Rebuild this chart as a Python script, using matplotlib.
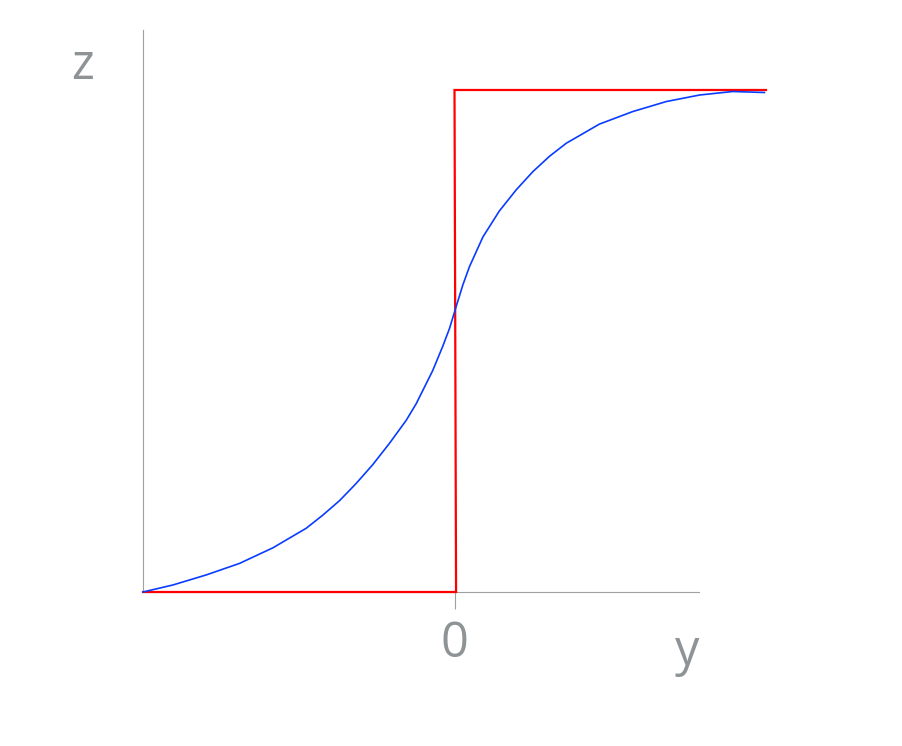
import matplotlib
matplotlib.use("Agg")
import matplotlib.pyplot as plt

# Data
step_x = [-1.0, 0.005, 0.0, 1.0]
step_z = [0.0, 0.0, 1.0, 1.0]

curve_x = [-1.000, -0.904, -0.797, -0.690, -0.583, -0.476, -0.423, -0.369, -0.316,
           -0.262, -0.209, -0.155, -0.123, -0.070, -0.038, -0.016, 0.005, 0.027,
           0.048, 0.091, 0.144, 0.198, 0.251, 0.305, 0.359, 0.465, 0.572, 0.680,
           0.787, 0.893, 0.995]
curve_z = [0.000, 0.014, 0.034, 0.057, 0.088, 0.127, 0.153, 0.182, 0.216,
           0.254, 0.296, 0.342, 0.375, 0.441, 0.489, 0.525, 0.568, 0.612,
           0.648, 0.707, 0.759, 0.801, 0.837, 0.868, 0.894, 0.932, 0.957, 0.977,
           0.990, 0.997, 0.995]

xticks = [0]
xtick_labels = ["0"]

W, H = 902, 746
fig = plt.figure(figsize=(W / 100, H / 100), dpi=100)
ax = fig.add_axes([143 / W, (H - 592) / H, 623 / W, 562 / H])
ax.set_xlim(-1.0, 1.0)
ax.set_ylim(0.0, 1.1195)

gray = "#8e9396"
axcol = "#a0a0a0"
font = ["Open Sans", "DejaVu Sans"]

ax.plot(step_x, step_z, color="#ff0000", lw=1.6, solid_joinstyle="miter",
        zorder=3, clip_on=False)
ax.plot(curve_x, curve_z, color="#0a3cff", lw=1.2, zorder=4, clip_on=False,
        solid_joinstyle="round")

for s in ["top", "right"]:
    ax.spines[s].set_visible(False)
for s in ["left", "bottom"]:
    ax.spines[s].set_color(axcol)
    ax.spines[s].set_linewidth(0.8)
ax.spines["bottom"].set_bounds(-1.0, 0.786)

ax.set_yticks([])
ax.set_xticks(xticks)
ax.set_xticks(xticks, minor=True)
ax.set_xticklabels(xtick_labels, fontsize=35, color=gray, family=font)
ax.tick_params(axis="x", which="major", direction="out", length=12, width=0.8,
               color=axcol, pad=8)
ax.tick_params(axis="x", which="minor", direction="in", length=18.4, width=0.8,
               color=axcol)

ax.text(0.786, -0.145, "y", transform=ax.transData, ha="right", va="baseline",
        fontsize=35, color=gray, family=font)
fig.text(82.5 / W, 1 - 79 / H, "z", ha="center", va="baseline",
         fontsize=35, color=gray, family=font)

fig.savefig("out.png", dpi=100)
